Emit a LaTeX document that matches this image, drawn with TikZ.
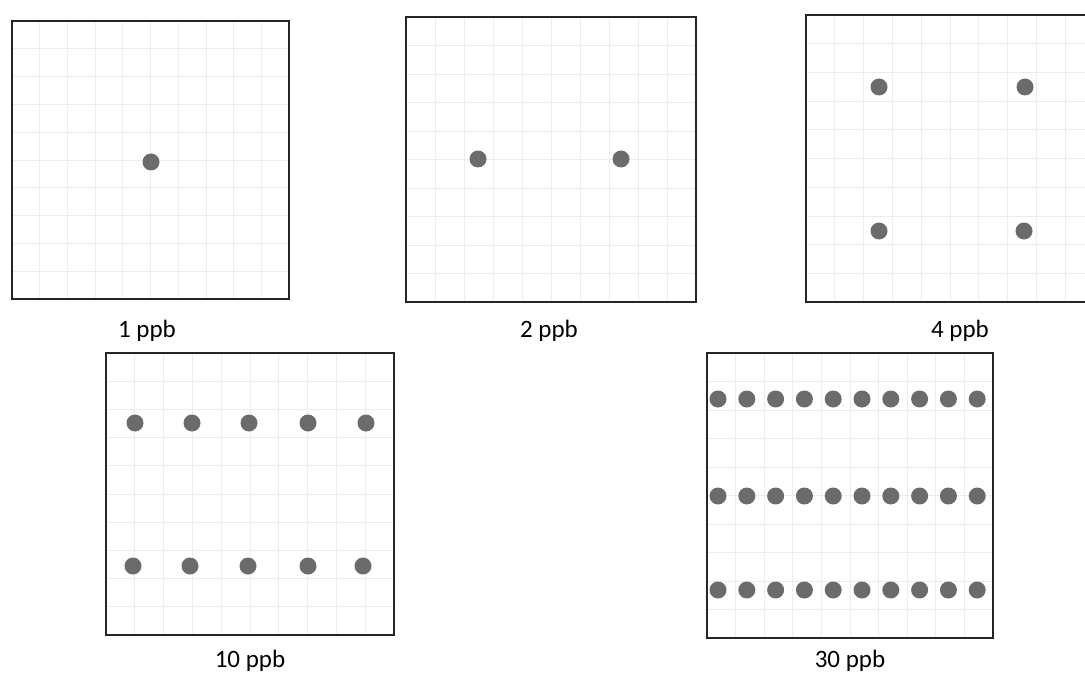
\documentclass[tikz,border=0pt]{standalone}
\usepackage{fontspec}
\setmainfont{Carlito}
\usetikzlibrary{positioning}

\begin{document}
\begin{tikzpicture}[x=1pt, y=-1pt,
  frame/.style={draw=black!85, line width=1.6pt},
  gridline/.style={draw=black!7, line width=0.7pt},
  spot/.style={circle, fill=black!58, minimum size=17pt, inner sep=0pt},
  lbl/.style={anchor=base, font=\fontsize{25}{28}\selectfont}
]
\useasboundingbox[fill=white] (0,0) rectangle (1085,674);
% panels with faint grid
\foreach \l/\t/\r/\b in {12/21/289/299, 406/17/696/302, 806/15/1094/302,
    106/353/394/635, 707/353/993/638} {
  \foreach \i in {1,...,9} {
    \draw[gridline] ({\l+\i*(\r-\l)/10},\t) -- ({\l+\i*(\r-\l)/10},\b);
    \draw[gridline] (\l,{\t+\i*(\b-\t)/10}) -- (\r,{\t+\i*(\b-\t)/10});
  }
  \draw[frame] (\l,\t) rectangle (\r,\b);
}

% 1 ppb
\node[spot] (s1) at (151,162) {};
% 2 ppb
\node[spot] (s2a) at (478,159) {};
\node[spot] (s2b) at (621,159) {};
% 4 ppb
\node[spot] (s4a) at (879,87) {};
\node[spot] (s4b) at (1025,87) {};
\node[spot] (s4c) at (879,231) {};
\node[spot] (s4d) at (1024,231) {};
% 10 ppb
\foreach \x [count=\c] in {135,192,249,308,366}
  \node[spot] (s10a\c) at (\x,423) {};
\foreach \x [count=\c] in {133,190,248,308,363}
  \node[spot] (s10b\c) at (\x,566) {};
% 30 ppb
\foreach \y [count=\r] in {399,496,590}
  \foreach \c in {1,...,10}
    \node[spot] (s30-\r-\c) at ({718+(\c-1)*28.8},\y) {};

\node[lbl] (t1) at (147,337) {1 ppb};
\node[lbl] (t2) at (549,337) {2 ppb};
\node[lbl] (t4) at (960,337) {4 ppb};
\node[lbl] (t10) at (250,667) {10 ppb};
\node[lbl] (t30) at (850,667) {30 ppb};
\end{tikzpicture}
\end{document}
